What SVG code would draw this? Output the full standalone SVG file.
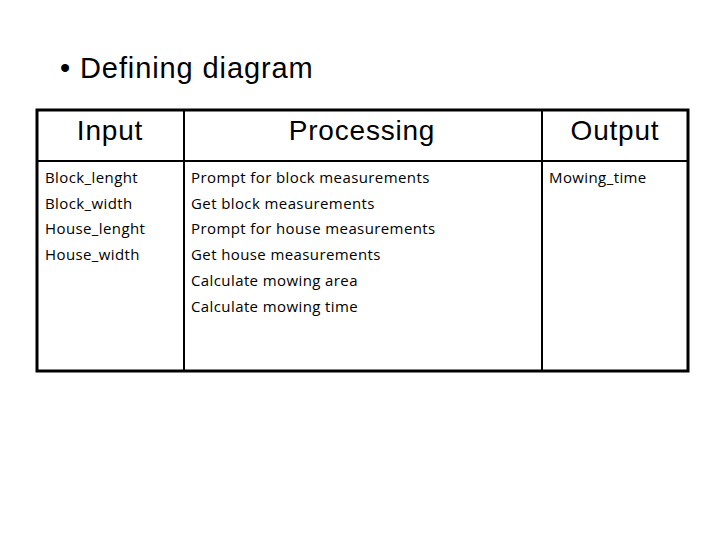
<svg xmlns="http://www.w3.org/2000/svg" width="720" height="540" viewBox="0 0 720 540">
<style>
.h{font-family:"Liberation Sans",Arial,sans-serif;font-size:28px;letter-spacing:0.8px;fill:#000;text-anchor:middle}
.b{font-family:"Open Sans","DejaVu Sans",sans-serif;font-size:15px;letter-spacing:0.4px;fill:#000}
.l{stroke:#000;fill:none}
</style>
<rect width="720" height="540" fill="#fff"/>
<text x="60" y="78" font-family="Liberation Sans,Arial,sans-serif" font-size="29" letter-spacing="0.9">•  Defining diagram</text>
<g id="table">
<rect class="l" x="37" y="110" width="651" height="261" stroke-width="3"/>
<line class="l" x1="37" y1="161" x2="688" y2="161" stroke-width="2"/>
<line class="l" x1="184" y1="110" x2="184" y2="371" stroke-width="2"/>
<line class="l" x1="542" y1="110" x2="542" y2="371" stroke-width="2"/>
</g>
<g id="input">
<text class="h" x="110" y="140">Input</text>
<text class="b" x="45" y="183">Block_lenght</text>
<text class="b" x="45" y="209">Block_width</text>
<text class="b" x="45" y="234">House_lenght</text>
<text class="b" x="45" y="260">House_width</text>
</g>
<g id="processing">
<text class="h" x="362" y="140">Processing</text>
<text class="b" x="191" y="183">Prompt for block measurements</text>
<text class="b" x="191" y="209">Get block measurements</text>
<text class="b" x="191" y="234">Prompt for house measurements</text>
<text class="b" x="191" y="260">Get house measurements</text>
<text class="b" x="191" y="286">Calculate mowing area</text>
<text class="b" x="191" y="312">Calculate mowing time</text>
</g>
<g id="output">
<text class="h" x="615" y="140">Output</text>
<text class="b" x="549" y="183">Mowing_time</text>
</g>
</svg>
